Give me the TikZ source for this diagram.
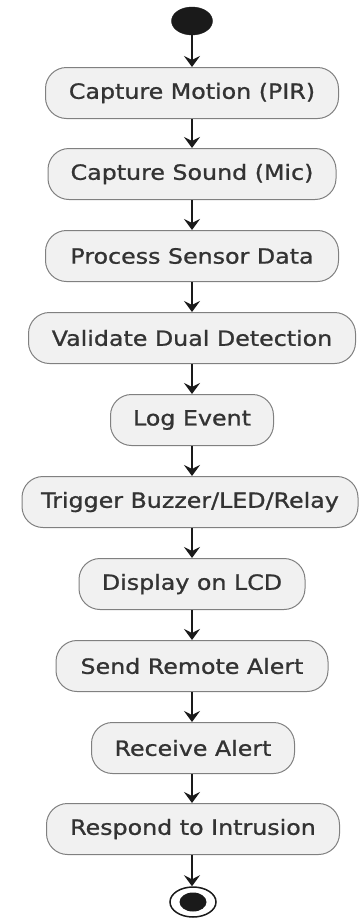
\documentclass[tikz,border=0pt]{standalone}
\usepackage{fontspec}
\setmainfont{DejaVu Sans}
\newfontfamily\actfont{DejaVu Sans}[FakeBold=0.9]
\usetikzlibrary{arrows.meta,shapes.geometric}
\definecolor{boxfill}{HTML}{F1F1F1}
\definecolor{boxline}{HTML}{808080}
\definecolor{txt}{HTML}{333333}
\definecolor{arr}{HTML}{1A1A1A}
\newcommand{\lbl}[1]{\scalebox{1.13}[1]{#1}}
\begin{document}
\begin{tikzpicture}[x=1pt,y=1pt,
  act/.style={draw=boxline, line width=1pt, fill=boxfill, rounded corners=21pt,
    minimum height=51pt, inner sep=0pt, text=txt,
    font=\actfont\fontsize{21}{24}\selectfont},
  flow/.style={draw=arr, line width=1.5pt, -{Stealth[length=11pt,width=16pt,inset=4pt]}}]
\useasboundingbox (0,0) rectangle (359,-919);
\node[fill=arr, draw=arr, ellipse, minimum width=41pt, minimum height=28pt, inner sep=0pt] (start) at (192,-21) {};
\node[act, minimum width=293pt] (a1) at (192,-93) {\lbl{Capture Motion (PIR)}};
\node[act, minimum width=288pt] (a2) at (192,-174) {\lbl{Capture Sound (Mic)}};
\node[act, minimum width=293pt] (a3) at (192,-256) {\lbl{Process Sensor Data}};
\node[act, minimum width=327pt] (a4) at (192,-338) {\lbl{Validate Dual Detection}};
\node[act, minimum width=163pt] (a5) at (192,-420) {\lbl{Log Event}};
\node[act, minimum width=336pt] (a6) at (190,-502) {\lbl{Trigger Buzzer/LED/Relay}};
\node[act, minimum width=226pt] (a7) at (192,-584) {\lbl{Display on LCD}};
\node[act, minimum width=272pt] (a8) at (192,-666) {\lbl{Send Remote Alert}};
\node[act, minimum width=203pt] (a9) at (193,-748) {\lbl{Receive Alert}};
\node[act, minimum width=293pt] (a10) at (193,-829) {\lbl{Respond to Intrusion}};
\node[draw=arr, line width=1.5pt, fill=white, ellipse, minimum width=46pt, minimum height=30pt, inner sep=0pt] (stop) at (193,-902) {};
\node[fill=arr, ellipse, minimum width=27pt, minimum height=19pt, inner sep=0pt] (stopin) at (stop.center) {};
\draw[flow] (start.south) -- (start.south |- a1.north);
\draw[flow] (a1.south -| start) -- (start |- a2.north);
\draw[flow] (a2.south -| start) -- (start |- a3.north);
\draw[flow] (a3.south -| start) -- (start |- a4.north);
\draw[flow] (a4.south -| start) -- (start |- a5.north);
\draw[flow] (a5.south -| start) -- (start |- a6.north);
\draw[flow] (a6.south -| start) -- (start |- a7.north);
\draw[flow] (a7.south -| start) -- (start |- a8.north);
\draw[flow] (a8.south -| start) -- (start |- a9.north);
\draw[flow] (a9.south -| start) -- (start |- a10.north);
\draw[flow] (a10.south -| start) -- (start |- stop.north);
\end{tikzpicture}
\end{document}
